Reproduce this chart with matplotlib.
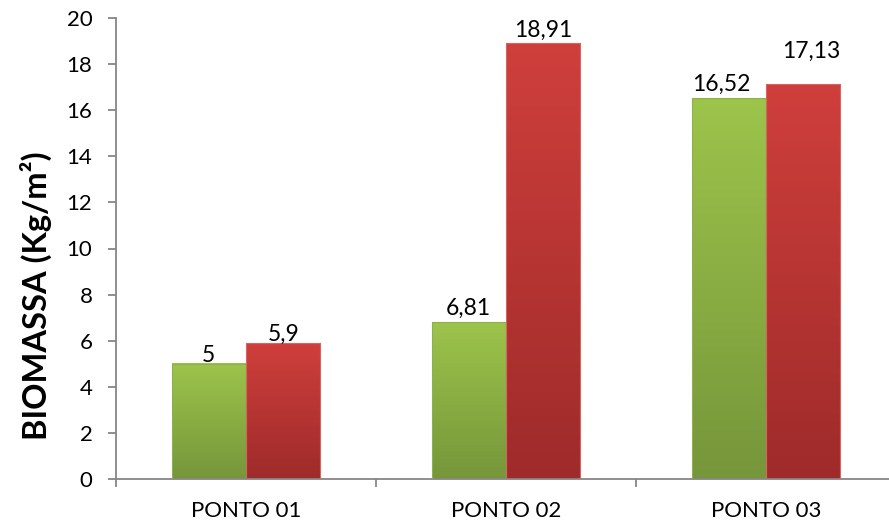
import numpy as np
import matplotlib.pyplot as plt
from matplotlib.colors import LinearSegmentedColormap

# Biomass per sampling point, two series
categories = ["PONTO 01", "PONTO 02", "PONTO 03"]
serie_a = [5, 6.81, 16.52]
serie_b = [5.9, 18.91, 17.13]
value_labels_a = ["5", "6,81", "16,52"]
value_labels_b = ["5,9", "18,91", "17,13"]
y_ticks = [0, 2, 4, 6, 8, 10, 12, 14, 16, 18, 20]

# label nudges (pixels) so neighbouring value labels do not collide
nudge_a = [(0, 1.5), (0, 7), (-7, 7)]
nudge_b = [(0, 2.5), (0, 6), (8, 26)]

plt.rcParams['font.family'] = ['Lato', 'DejaVu Sans']

fig = plt.figure(figsize=(8.89, 5.25), dpi=100)
ax = fig.add_axes([116 / 889, 46 / 525, (896 - 116) / 889, (479 - 18) / 525])

green_cmap = LinearSegmentedColormap.from_list("g", ["#76963A", "#9DC44B"])
red_cmap = LinearSegmentedColormap.from_list("r", ["#9E2B2A", "#CF3F3C"])

x = np.arange(len(categories))
width = 0.2865
grad = np.linspace(0, 1, 256).reshape(-1, 1)


def gradient_bars(xs, vals, cmap, edge):
    bars = ax.bar(xs, vals, width, color="none", edgecolor=edge, linewidth=0.8, zorder=3)
    for b in bars:
        x0, y0 = b.get_x(), b.get_y()
        w, h = b.get_width(), b.get_height()
        ax.imshow(grad, cmap=cmap, origin="lower", aspect="auto",
                  extent=(x0, x0 + w, y0, y0 + h), zorder=2, interpolation="bicubic")
    return bars


bars_a = gradient_bars(x - width / 2, serie_a, green_cmap, "#8FB04A")
bars_b = gradient_bars(x + width / 2, serie_b, red_cmap, "#D46562")

px = 72 / fig.dpi
for bars, labels, nudges in ((bars_a, value_labels_a, nudge_a),
                             (bars_b, value_labels_b, nudge_b)):
    for b, lab, (dx, dy) in zip(bars, labels, nudges):
        ax.annotate(lab, (b.get_x() + b.get_width() / 2, b.get_height()),
                    xytext=(dx * px, dy * px), textcoords="offset points",
                    ha="center", va="baseline", fontsize=16.5, color="black")

ax.set_xlim(-0.5, len(categories) - 0.5)
ax.set_ylim(0, 20)
ax.set_yticks(y_ticks)
ax.set_yticklabels([str(t) for t in y_ticks], fontsize=16)
ax.set_xticks(np.arange(len(categories) + 1) - 0.5, minor=False)
ax.set_xticklabels([])
ax.set_xticks(x, minor=True)
ax.set_xticklabels(categories, minor=True, fontsize=16)
ax.tick_params(axis="x", which="minor", length=0, pad=16)
ax.tick_params(axis="x", which="major", length=6, color="#868686", width=1.3, direction="out")
ax.tick_params(axis="y", length=6, color="#868686", width=1.3, direction="out", pad=11)

for side in ("top", "right"):
    ax.spines[side].set_visible(False)
for side in ("left", "bottom"):
    ax.spines[side].set_color("#868686")
    ax.spines[side].set_linewidth(1.3)

ax.set_ylabel("BIOMASSA (Kg/m²)", fontsize=23.5, fontweight="bold")
ax.yaxis.set_label_coords(-(116 - 52) / 780, (479 - 296) / 461)

fig.savefig("out.png", dpi=100)
